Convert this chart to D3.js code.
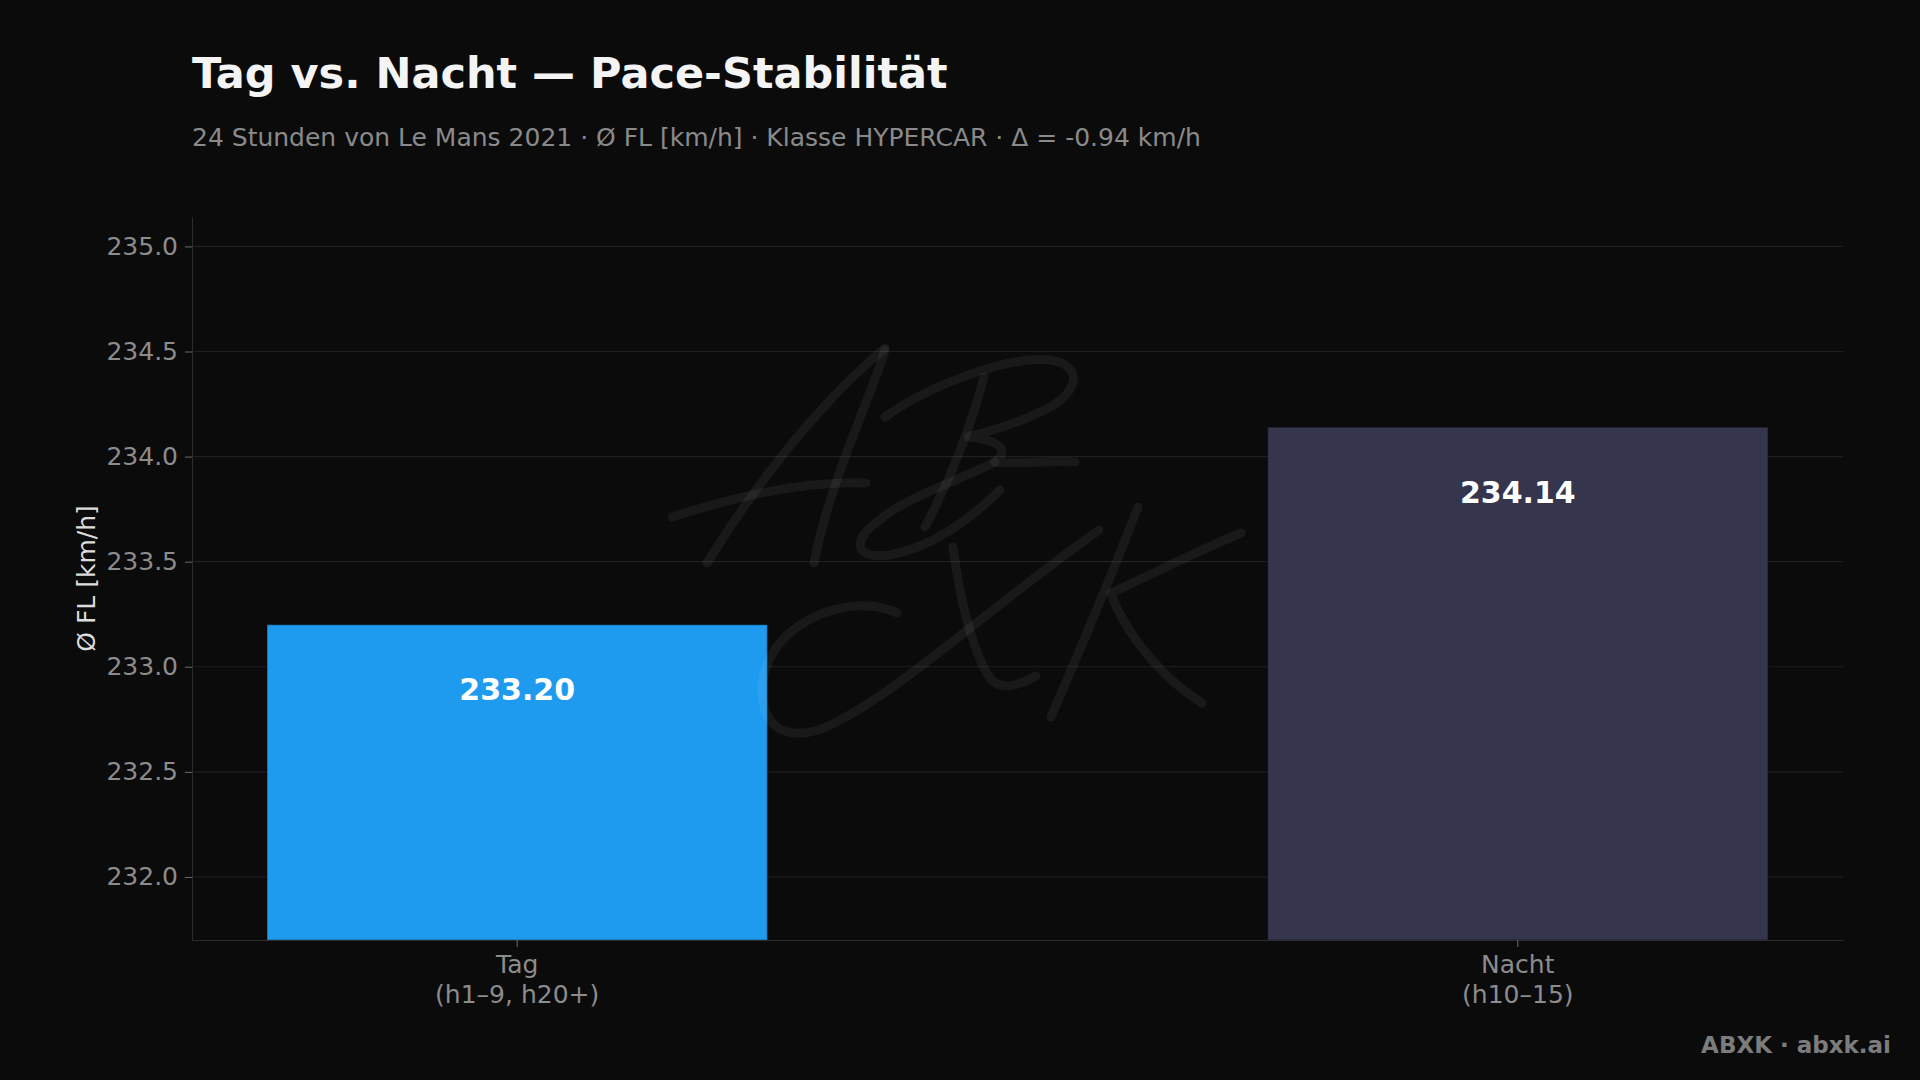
<!DOCTYPE html>
<html>
<head>
<meta charset="utf-8">
<script src="https://cdn.jsdelivr.net/npm/d3@7"></script>
<style>
  html, body { margin: 0; padding: 0; background: #0b0b0c; }
  svg { display: block; font-family: "DejaVu Sans", sans-serif; }
</style>
</head>
<body>
<svg id="chart"></svg>
<script>
// chart data
var categories = ["Tag", "Nacht"];
var hourRanges = ["(h1–9, h20+)", "(h10–15)"];
var paceValues = [233.20, 234.14];
var yTicks = [232.0, 232.5, 233.0, 233.5, 234.0, 234.5, 235.0];

var barColors = ["#1e9bef", "#35354d"];

// set the dimensions and margins of the graph
var W = 1920, H = 1080;
var margin = {top: 217, right: 77, bottom: 140, left: 192},
width = W - margin.left - margin.right,
height = H - margin.top - margin.bottom;

var svg = d3.select("#chart")
  .attr("width", W)
  .attr("height", H);

svg.append("rect")
  .attr("width", W)
  .attr("height", H)
  .attr("fill", "#0b0b0c");

// title + subtitle
svg.append("text")
  .attr("x", 192)
  .attr("y", 88)
  .text("Tag vs. Nacht — Pace-Stabilität")
  .style("font-size", "43px")
  .style("font-weight", "bold")
  .style("fill", "#f4f4f4");

svg.append("text")
  .attr("x", 192)
  .attr("y", 146)
  .text("24 Stunden von Le Mans 2021 · Ø FL [km/h] · Klasse HYPERCAR · Δ = -0.94 km/h")
  .style("font-size", "25px")
  .style("fill", "#8a8a8a");

var g = svg.append("g")
  .attr("transform", "translate(" + margin.left + "," + margin.top + ")");

// X scale
var x = d3.scaleBand()
  .range([0, width])
  .domain(categories)
  .paddingInner(0.5)
  .paddingOuter(0.075);

// Y scale
var y = d3.scaleLinear()
  .domain([d3.min(paceValues) - 1.5, d3.max(paceValues) + 1.0])
  .range([height, 0]);

// gridlines
g.selectAll("line.grid")
  .data(yTicks)
  .enter()
  .append("line")
  .attr("class", "grid")
  .attr("x1", 0)
  .attr("x2", width)
  .attr("y1", function(d) { return y(d); })
  .attr("y2", function(d) { return y(d); })
  .attr("stroke", "#1f1f21")
  .attr("stroke-width", 1.2);

// bars
g.selectAll("rect.bar")
  .data(paceValues)
  .enter()
  .append("rect")
  .attr("class", "bar")
  .attr("x", function(d, i) { return x(categories[i]); })
  .attr("width", x.bandwidth())
  .attr("y", function(d) { return y(d); })
  .attr("height", function(d) { return height - y(d); })
  .attr("fill", function(d, i) { return barColors[i]; })
  .attr("stroke", "rgba(0,0,0,0.25)")
  .attr("stroke-width", 1.5);

// value labels
g.selectAll("text.val")
  .data(paceValues)
  .enter()
  .append("text")
  .attr("class", "val")
  .attr("x", function(d, i) { return x(categories[i]) + x.bandwidth() / 2; })
  .attr("y", function(d) { return y(d) + 65; })
  .attr("text-anchor", "middle")
  .attr("dominant-baseline", "central")
  .text(function(d) { return d.toFixed(2); })
  .style("font-size", "30px")
  .style("font-weight", "bold")
  .style("fill", "#ffffff");

// Y axis
var yAxis = g.append("g")
  .call(d3.axisLeft(y).tickValues(yTicks).tickSize(7).tickSizeOuter(0).tickPadding(7)
    .tickFormat(d3.format(".1f")));
yAxis.select(".domain").attr("stroke", "#2c2c2e");
yAxis.selectAll(".tick line").attr("stroke", "#6a6a6a");
yAxis.selectAll(".tick text")
  .style("font-size", "25px")
  .style("font-family", "DejaVu Sans")
  .style("fill", "#8c8c8c");

// X axis
var xAxis = g.append("g")
  .attr("transform", "translate(0," + height + ")")
  .call(d3.axisBottom(x).tickSize(7).tickSizeOuter(0).tickFormat(""));
xAxis.select(".domain").attr("stroke", "#2c2c2e");
xAxis.selectAll(".tick line").attr("stroke", "#6a6a6a");

xAxis.selectAll(".tick").each(function(d, i) {
  var t = d3.select(this).append("text")
    .attr("text-anchor", "middle")
    .style("font-size", "25px")
    .style("font-family", "DejaVu Sans")
    .style("fill", "#8c8c8c");
  t.append("tspan").attr("x", 0).attr("y", 33).text(categories[i]);
  t.append("tspan").attr("x", 0).attr("y", 63).text(hourRanges[i]);
});

// y label
svg.append("text")
  .attr("transform", "translate(95," + (margin.top + height / 2) + ") rotate(-90)")
  .attr("text-anchor", "middle")
  .text("Ø FL [km/h]")
  .style("font-size", "25px")
  .style("fill", "#dcdcdc");

// watermark signature (decorative, on top with low alpha)
var wm = svg.append("g")
  .attr("fill", "none")
  .attr("stroke", "rgba(255,255,255,0.06)")
  .attr("stroke-width", 9)
  .attr("stroke-linecap", "round")
  .attr("stroke-linejoin", "round");
var sig = [
  "M707,563 C740,510 800,420 885,348",
  "M885,350 C870,400 830,480 814,563",
  "M672,517 C710,505 790,480 866,483",
  "M885,417 C930,385 1010,355 1050,360 C1085,365 1080,395 1040,412 C1010,427 985,432 968,437 C1000,440 1010,450 995,462 C1020,465 1050,460 1075,462",
  "M984,377 C970,430 950,480 925,527",
  "M995,462 C960,480 900,500 880,520 C850,540 855,560 890,555 C930,548 970,520 1000,490",
  "M897,613 C870,600 830,605 800,625 C770,645 755,680 765,710 C775,740 810,738 840,720 C900,690 1000,600 1099,530",
  "M953,547 C960,600 970,640 985,670 C995,690 1010,690 1036,676",
  "M1138,507 C1110,580 1080,650 1051,717",
  "M1241,533 C1200,550 1150,575 1111,593 C1120,620 1150,670 1202,703"
];
wm.selectAll("path")
  .data(sig)
  .enter()
  .append("path")
  .attr("d", function(d) { return d; });

// footer
svg.append("text")
  .attr("x", 1891)
  .attr("y", 1053)
  .attr("text-anchor", "end")
  .text("ABXK · abxk.ai")
  .style("font-size", "23px")
  .style("font-weight", "bold")
  .style("fill", "#7c7c7c");
</script>
</body>
</html>
